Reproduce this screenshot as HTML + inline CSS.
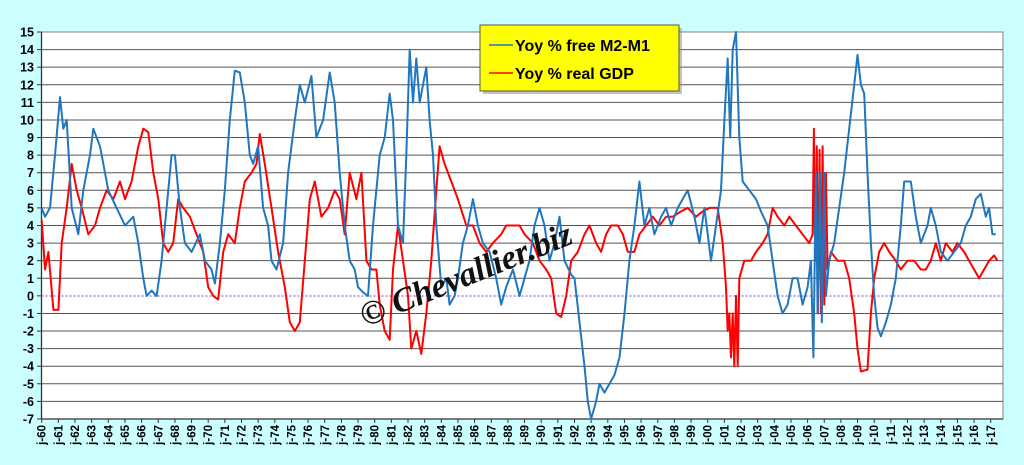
<!DOCTYPE html>
<html><head><meta charset="utf-8"><style>
html,body{margin:0;padding:0;background:#ccffff;}
svg{display:block;font-family:"Liberation Sans",sans-serif;}
</style></head><body>
<svg id="c" width="1024" height="465" xmlns="http://www.w3.org/2000/svg">
<rect x="0" y="0" width="1024" height="465" fill="#ccffff"/>
<rect x="41.5" y="32" width="961.5" height="387" fill="#fff" stroke="#808080" stroke-width="1"/>
<g id="grid"></g>
<line x1="41.5" y1="296" x2="1003" y2="296" stroke="#9966cc" stroke-width="1.2" stroke-dasharray="2,2"/>
<g id="ser"></g>
<text transform="translate(470,285) rotate(-22)" text-anchor="middle" font-family="Liberation Serif,serif" font-style="italic" font-weight="bold" font-size="34" fill="#111">© Chevallier.biz</text>
<rect x="483" y="28" width="199" height="66" fill="#888" opacity="0.5"/>
<rect x="480" y="25" width="199" height="66" fill="#ffff00" stroke="#555" stroke-width="1"/>
<line x1="489" y1="45" x2="513" y2="45" stroke="#1f77c0" stroke-width="1.5"/>
<text x="515" y="51" font-size="16" font-weight="bold" fill="#000">Yoy % free M2-M1</text>
<line x1="489" y1="73" x2="513" y2="73" stroke="#ff0000" stroke-width="1.5"/>
<text x="515" y="79" font-size="16" font-weight="bold" fill="#000">Yoy % real GDP</text>
</svg>
<script>
var NS="http://www.w3.org/2000/svg";
function X(y){return 41.7+16.65*(y-1960);}
function Y(v){return 32+(15-v)*17.59;}
var g=document.getElementById('grid'),s='';
for(var v=-7;v<=15;v++){var y=Y(v);
 if(v>-7&&v<15&&v!==0)s+='<line x1="41.5" y1="'+y+'" x2="1003" y2="'+y+'" stroke="#555" stroke-width="1"/>';
 s+='<line x1="37" y1="'+y+'" x2="41.5" y2="'+y+'" stroke="#333"/>';
 s+='<text x="34" y="'+(y+4.5)+'" text-anchor="end" font-size="12.5" font-weight="bold">'+v+'</text>';}
s+='<line x1="41.5" y1="32" x2="41.5" y2="419" stroke="#333" stroke-width="1.3"/>';
s+='<line x1="41.5" y1="419" x2="1003" y2="419" stroke="#333" stroke-width="1.3"/>';
for(var yr=1960;yr<=2017;yr++){var x=X(yr);
 s+='<line x1="'+x+'" y1="419" x2="'+x+'" y2="423" stroke="#333"/>';
 var l='j-'+String(yr%100).padStart(2,'0');
 s+='<text transform="translate('+(x+4)+',425) rotate(-90)" text-anchor="end" font-size="11.5" font-weight="bold">'+l+'</text>';}
g.innerHTML=s;
var blue=[1960,5,1960.2,4.5,1960.5,5,1960.8,8,1961.1,11.3,1961.3,9.5,1961.5,10,1961.8,5,1962.2,3.5,1962.5,6,1962.9,8,1963.1,9.5,1963.5,8.5,1964,6,1964.5,5,1965,4,1965.5,4.5,1965.8,3,1966.1,1,1966.3,0,1966.6,0.3,1966.9,0,1967.2,2,1967.5,5,1967.8,8,1968,8,1968.3,5,1968.6,3,1969,2.5,1969.5,3.5,1969.8,2,1970.2,1.5,1970.4,0.7,1970.7,3,1971,6,1971.3,10,1971.6,12.8,1971.9,12.7,1972.2,11,1972.5,8,1972.7,7.5,1973,8.5,1973.3,5,1973.6,4,1973.8,2,1974.1,1.5,1974.5,3,1974.8,7,1975.2,10,1975.5,12,1975.8,11,1976.2,12.5,1976.5,9,1976.9,10,1977.3,12.7,1977.6,11,1977.9,7,1978.2,4,1978.5,2,1978.8,1.5,1979,0.5,1979.3,0.2,1979.6,0,1979.9,4,1980.3,8,1980.6,9,1980.9,11.5,1981.1,10,1981.4,4,1981.7,3,1981.9,8,1982.1,14,1982.3,11,1982.5,13.5,1982.7,11,1982.9,12,1983.1,13,1983.3,10,1983.5,8,1983.7,4,1984,0.5,1984.3,1,1984.5,-0.5,1984.8,0,1985,1,1985.3,3,1985.6,4,1985.9,5.5,1986.2,4,1986.5,3,1986.9,2.5,1987.3,1,1987.6,-0.5,1987.9,0.5,1988.3,1.5,1988.7,0,1989,1,1989.3,2,1989.6,4,1989.9,5,1990.2,4,1990.5,2,1990.8,3,1991.1,4.5,1991.4,2,1991.8,1.2,1992,1,1992.3,-1.5,1992.6,-4,1992.8,-6,1993,-7,1993.3,-6,1993.5,-5,1993.8,-5.5,1994.1,-5,1994.4,-4.5,1994.7,-3.5,1995,-1,1995.3,2,1995.6,4,1995.9,6.5,1996.2,4,1996.5,5,1996.8,3.5,1997.2,4.5,1997.5,5,1997.8,4,1998.2,5,1998.5,5.5,1998.8,6,1999.2,4.5,1999.5,3,1999.8,5,2000.2,2,2000.5,4,2000.8,6,2001,10,2001.2,13.5,2001.35,9,2001.5,14,2001.7,15,2001.9,9,2002.1,6.5,2002.5,6,2002.9,5.5,2003.2,4.8,2003.6,4,2003.9,2,2004.2,0,2004.5,-1,2004.8,-0.5,2005.1,1,2005.4,1,2005.7,-0.5,2006,0.5,2006.2,2,2006.35,-3.5,2006.5,7,2006.6,-1,2006.75,7,2006.85,-1.5,2007,7,2007.1,0,2007.3,2,2007.6,3,2007.9,5,2008.2,7,2008.5,9.5,2008.8,12,2009,13.7,2009.2,12,2009.4,11.5,2009.6,7,2009.8,3,2010,0,2010.2,-1.8,2010.4,-2.3,2010.7,-1.5,2011,-0.5,2011.3,1,2011.6,4,2011.8,6.5,2012.2,6.5,2012.5,4.5,2012.8,3,2013.2,4,2013.4,5,2013.7,4,2014,2.5,2014.4,2,2014.8,2.5,2015.2,3,2015.5,4,2015.8,4.5,2016.1,5.5,2016.4,5.8,2016.7,4.5,2016.9,5,2017.1,3.5,2017.3,3.5];
var red=[1960,4.3,1960.2,1.5,1960.4,2.5,1960.7,-0.8,1961,-0.8,1961.2,3,1961.5,5,1961.8,7.5,1962.1,6,1962.4,5,1962.8,3.5,1963.2,4,1963.5,5,1963.9,6,1964.3,5.5,1964.7,6.5,1965,5.5,1965.4,6.5,1965.8,8.5,1966.1,9.5,1966.4,9.3,1966.7,7,1967,5.5,1967.3,3,1967.6,2.5,1967.9,3,1968.2,5.5,1968.5,5,1968.9,4.5,1969.3,3.5,1969.7,2.5,1970,0.5,1970.3,0,1970.6,-0.2,1970.9,2.5,1971.2,3.5,1971.6,3,1971.9,5,1972.2,6.5,1972.6,7,1972.9,7.5,1973.1,9.2,1973.4,7.5,1973.8,5,1974.2,2.5,1974.6,0.5,1974.9,-1.5,1975.2,-2,1975.5,-1.5,1975.8,2,1976.1,5.5,1976.4,6.5,1976.8,4.5,1977.2,5,1977.6,6,1977.9,5.5,1978.2,3.5,1978.5,7,1978.9,5.5,1979.2,7,1979.5,2,1979.8,1.5,1980.1,1.5,1980.3,-0.5,1980.6,-2,1980.9,-2.5,1981.1,1.5,1981.4,4,1981.7,2,1982,0,1982.2,-3,1982.5,-2,1982.8,-3.3,1983.1,-1,1983.4,2,1983.7,6,1983.9,8.5,1984.2,7.5,1984.6,6.5,1985,5.5,1985.5,4,1985.9,4,1986.3,3,1986.7,2.5,1987.1,3,1987.6,3.5,1987.9,4,1988.3,4,1988.7,4,1989,3.5,1989.5,3,1989.9,2,1990.3,1.5,1990.6,1,1990.9,-1,1991.2,-1.2,1991.5,0,1991.8,2,1992.2,2.5,1992.6,3.5,1992.9,4,1993.3,3,1993.6,2.5,1993.9,3.5,1994.2,4,1994.6,4,1994.9,3.5,1995.2,2.5,1995.6,2.5,1995.9,3.5,1996.3,4,1996.7,4.5,1997.1,4,1997.5,4.5,1997.9,4.5,1998.4,4.8,1998.8,5,1999.3,4.5,1999.7,4.8,2000.1,5,2000.6,5,2000.9,3,2001.1,0.5,2001.2,-2,2001.3,-1,2001.4,-3.5,2001.5,-1,2001.6,-4,2001.7,0,2001.8,-4,2001.9,1,2002.2,2,2002.6,2,2002.9,2.5,2003.3,3,2003.6,3.5,2003.9,5,2004.2,4.5,2004.6,4,2004.9,4.5,2005.3,4,2005.7,3.5,2006.1,3,2006.3,3.5,2006.38,9.5,2006.45,2,2006.55,8.5,2006.62,-1,2006.72,8.3,2006.8,-1,2006.9,8.5,2007.0,-0.5,2007.1,7,2007.2,1.5,2007.4,2.5,2007.8,2,2008.2,2,2008.5,1,2008.8,-1,2009,-3,2009.2,-4.3,2009.6,-4.2,2009.8,-1,2010,1,2010.3,2.5,2010.6,3,2010.9,2.5,2011.3,2,2011.6,1.5,2012,2,2012.4,2,2012.8,1.5,2013.1,1.5,2013.4,2,2013.7,3,2014,2,2014.3,3,2014.7,2.5,2015,3,2015.4,2.5,2015.7,2,2016,1.5,2016.3,1,2016.6,1.5,2016.9,2,2017.2,2.3,2017.4,2];
function pl(a,c){var p=[];for(var i=0;i<a.length;i+=2)p.push(X(a[i]).toFixed(1)+','+Y(a[i+1]).toFixed(1));
 return '<polyline points="'+p.join(' ')+'" fill="none" stroke="'+c+'" stroke-width="2" stroke-linejoin="round"/>';}
document.getElementById('ser').innerHTML=pl(red,'#ff0000')+pl(blue,'#1f77c0');
</script>
</body></html>
